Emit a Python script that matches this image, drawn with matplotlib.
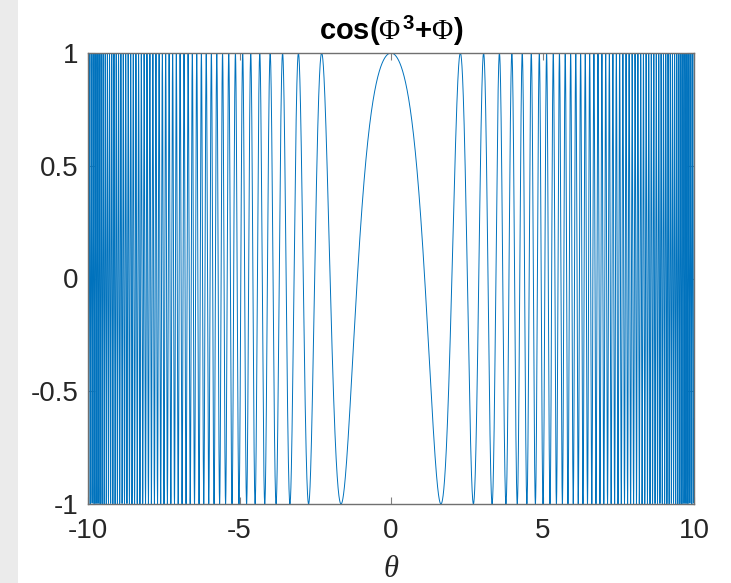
import numpy as np
import matplotlib
matplotlib.use("Agg")
import matplotlib.pyplot as plt
from matplotlib.patches import Rectangle

x_min, x_max = -10, 10
n_samples = 10001
cubic_coef = 1.0 / 3.0
linear_coef = 1.0
theta = np.linspace(x_min, x_max, n_samples)
values = np.cos(cubic_coef * theta**3 + linear_coef * theta)

x_ticks = [-10, -5, 0, 5, 10]
x_tick_labels = ["-10", "-5", "0", "5", "10"]
y_ticks = [-1, -0.5, 0, 0.5, 1]
y_tick_labels = ["-1", "-0.5", "0", "0.5", "1"]

plt.rcParams['font.family'] = ['Liberation Sans', 'DejaVu Sans']
plt.rcParams['mathtext.fontset'] = 'custom'
plt.rcParams['mathtext.rm'] = 'Liberation Serif'
plt.rcParams['mathtext.it'] = 'Liberation Serif:italic'
plt.rcParams['mathtext.bf'] = 'Liberation Sans:bold'

fig = plt.figure(figsize=(7.31, 5.83), dpi=100)
fig.patches.append(Rectangle((0, 0), 18/731, 1, transform=fig.transFigure,
                             facecolor='#ebebeb', edgecolor='none', zorder=0))
ax = fig.add_axes([88/731, 1-504/583, (694-88)/731, (504-53)/583])
ax.plot(theta, values, color='#0072BD', lw=0.7)
ax.set_xlim(x_min, x_max)
ax.set_ylim(-1, 1)
ax.set_xticks(x_ticks)
ax.set_xticklabels(x_tick_labels)
ax.set_yticks(y_ticks)
ax.set_yticklabels(y_tick_labels)
ax.tick_params(direction='in', length=5, width=0.8, color='#808080',
               labelsize=20, labelcolor='#262626', top=True, right=True,
               labeltop=False, labelright=False)
ax.tick_params(axis='x', pad=10)
ax.tick_params(axis='y', pad=7)
for s in ax.spines.values():
    s.set_color('#707070')
    s.set_linewidth(1.0)
ax.set_title(r'cos($\Phi^{\,\mathbf{3}}$+$\Phi$)', fontsize=21, fontweight='bold', pad=9)
ax.set_xlabel(r'$\theta$', fontsize=22, color='#262626', labelpad=7)

fig.savefig('out.png', dpi=100)
